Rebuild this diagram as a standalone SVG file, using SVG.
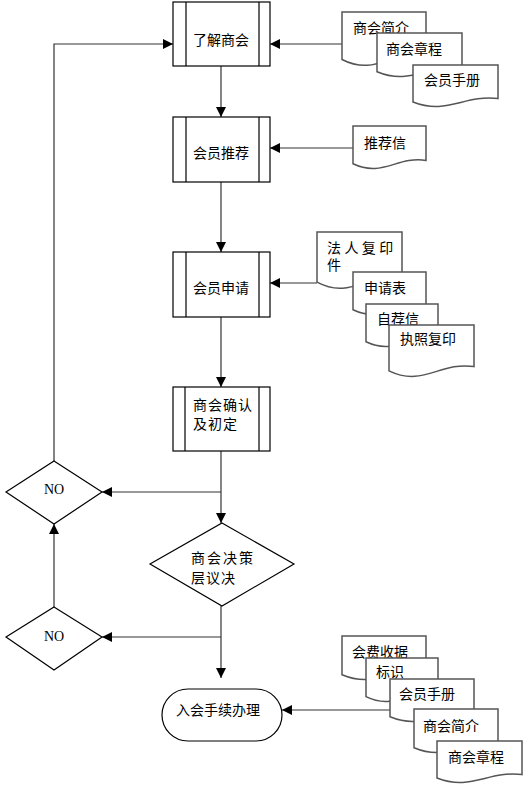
<svg xmlns="http://www.w3.org/2000/svg" width="532" height="796" viewBox="0 0 532 796">
<style>
text{font-family:"Liberation Sans","Noto Sans CJK SC",sans-serif;font-size:14px;fill:#000}
.box{fill:#fff;stroke:#000;stroke-width:1.2}
.doc{fill:#fff;stroke:#555;stroke-width:1.5}
.con{fill:none;stroke:#333;stroke-width:1.2}
.no{font-family:"Liberation Serif",serif;font-size:14px}
</style>
<defs>
<marker id="ah" markerUnits="userSpaceOnUse" markerWidth="10" markerHeight="10" viewBox="0 0 10 10" refX="10" refY="5" orient="auto">
<path d="M0,0 L10,5 L0,10 Z" fill="#000"/>
</marker>
</defs>
<rect width="532" height="796" fill="#fff"/>

<g id="connectors">
<path class="con" d="M221,66 V117" marker-end="url(#ah)"/>
<path class="con" d="M221,182 V252" marker-end="url(#ah)"/>
<path class="con" d="M221,317 V387" marker-end="url(#ah)"/>
<path class="con" d="M221,451 V523" marker-end="url(#ah)"/>
<path class="con" d="M221,492 H102" marker-end="url(#ah)"/>
<path class="con" d="M221,606 V678" marker-end="url(#ah)"/>
<path class="con" d="M221,637 H102" marker-end="url(#ah)"/>
<path class="con" d="M54,607 V524" marker-end="url(#ah)"/>
<path class="con" d="M54,461 V44 H173" marker-end="url(#ah)"/>
<path class="con" d="M342,44 H270" marker-end="url(#ah)"/>
<path class="con" d="M353,148 H270" marker-end="url(#ah)"/>
<path class="con" d="M317,283 H270" marker-end="url(#ah)"/>
<path class="con" d="M390,710 H282" marker-end="url(#ah)"/>
</g>

<g id="n1">
<rect class="box" x="173" y="2" width="97" height="64"/>
<path class="box" d="M186,2 V66 M259,2 V66"/>
<text x="221" y="45" text-anchor="middle">了解商会</text>
</g>
<g id="n2">
<rect class="box" x="173" y="117" width="97" height="65"/>
<path class="box" d="M186,117 V182 M259,117 V182"/>
<text x="221" y="158" text-anchor="middle">会员推荐</text>
</g>
<g id="n3">
<rect class="box" x="173" y="252" width="97" height="65"/>
<path class="box" d="M186,252 V317 M259,252 V317"/>
<text x="221" y="293" text-anchor="middle">会员申请</text>
</g>
<g id="n4">
<rect class="box" x="173" y="387" width="97" height="64"/>
<path class="box" d="M185,387 V451 M259,387 V451"/>
<text x="193" y="410" letter-spacing="1">商会确认</text>
<text x="193" y="429" letter-spacing="1">及初定</text>
</g>
<g id="no1">
<path class="box" d="M54,461 L102,492 L54,524 L6,492 Z"/>
<text class="no" x="54" y="494" text-anchor="middle">NO</text>
</g>
<g id="decision">
<path class="box" d="M222,523 L294,564 L222,606 L150,564 Z"/>
<text x="191" y="563" letter-spacing="2">商会决策</text>
<text x="191" y="583" letter-spacing="1">层议决</text>
</g>
<g id="no2">
<path class="box" d="M54,607 L102,637 L54,670 L6,637 Z"/>
<text class="no" x="54" y="641" text-anchor="middle">NO</text>
</g>
<g id="terminal">
<rect class="box" x="162" y="689" width="120" height="52" rx="26" ry="26"/>
<text x="218" y="715" text-anchor="middle">入会手续办理</text>
</g>

<!-- documents: path M x,y H x+w V y+0.8h C x+0.6w,y+0.7h x+0.4w,y+1.2h x,y+0.88h Z -->
<g id="d1">
<path class="doc" d="M342,12 H426 V55 C392.4,49.8 375.6,76.8 342,59.5 Z"/>
<text x="353" y="33">商会简介</text>
</g>
<g id="d2">
<path class="doc" d="M377,33 H462 V68.2 C428,63.8 411,85.8 377,71.7 Z"/>
<text x="386" y="54">商会章程</text>
</g>
<g id="d3">
<path class="doc" d="M413,65 H498 V98.6 C464,94.4 447,115.4 413,102 Z"/>
<text x="424" y="85">会员手册</text>
</g>
<g id="d4">
<path class="doc" d="M353,126 H426 V160.4 C396.8,156.1 382.2,177.6 353,163.8 Z"/>
<text x="364" y="148">推荐信</text>
</g>
<g id="d5">
<path class="doc" d="M317,232 H402 V277.6 C368,271.9 351,300.4 317,282.2 Z"/>
<text x="327" y="253" letter-spacing="3.4">法人复印</text>
<text x="327" y="270">件</text>
</g>
<g id="d6">
<path class="doc" d="M353,272 H426 V306.4 C396.8,302.1 382.2,323.6 353,309.8 Z"/>
<text x="364" y="293">申请表</text>
</g>
<g id="d7">
<path class="doc" d="M366,304 H438 V338.4 C409.2,334.1 394.8,355.6 366,341.8 Z"/>
<text x="377" y="324">自荐信</text>
</g>
<g id="d8">
<path class="doc" d="M389,325 H474 V366.6 C440,361.4 423,387.4 389,370.8 Z"/>
<text x="400" y="344">执照复印</text>
</g>
<g id="d9">
<path class="doc" d="M342,636 H426 V671.2 C392.4,666.8 375.6,688.8 342,674.7 Z"/>
<text x="352" y="657">会费收据</text>
</g>
<g id="d10">
<path class="doc" d="M366,658 H438 V693.2 C409.2,688.8 394.8,710.8 366,696.7 Z"/>
<text x="376" y="677">标识</text>
</g>
<g id="d11">
<path class="doc" d="M390,679 H474 V713.4 C440.4,709.1 423.6,730.6 390,716.8 Z"/>
<text x="399" y="699">会员手册</text>
</g>
<g id="d12">
<path class="doc" d="M414,709 H498 V744.2 C464.4,739.8 447.6,761.8 414,747.7 Z"/>
<text x="423" y="731">商会简介</text>
</g>
<g id="d13">
<path class="doc" d="M437,741 H522 V774.6 C488,770.4 471,791.4 437,778 Z"/>
<text x="448" y="762">商会章程</text>
</g>
</svg>
